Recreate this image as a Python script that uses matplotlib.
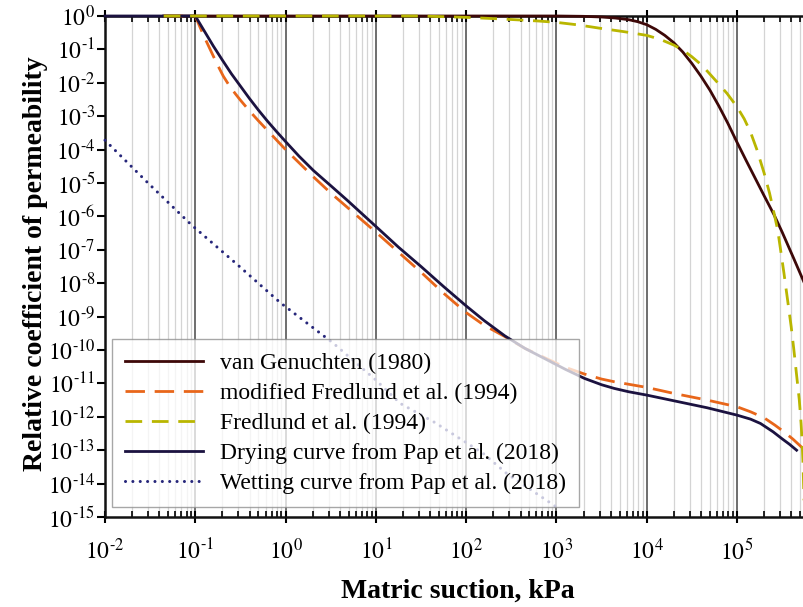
import numpy as np
import matplotlib
matplotlib.use("Agg")
import matplotlib.pyplot as plt
from matplotlib.ticker import LogLocator, FuncFormatter, NullLocator, FixedLocator

plt.rcParams['font.family'] = ['Liberation Serif', 'DejaVu Serif']
plt.rcParams['mathtext.fontset'] = 'stix'

# ---- data (log10 of suction in kPa, log10 of relative permeability) ----
vg_log_s = [-1.35, 3.0, 3.3, 3.5, 3.65, 3.8, 3.9, 4.0, 4.1, 4.2, 4.3, 4.4, 4.5, 4.6, 4.7, 4.8, 4.9,
            5.0, 5.1, 5.2, 5.3, 5.41, 5.5, 5.63, 5.742]
vg_log_k = [0.0, 0.0, -0.01, -0.03, -0.06, -0.11, -0.17, -0.26, -0.4, -0.58, -0.8, -1.08, -1.42, -1.8, -2.22,
            -2.7, -3.22, -3.78, -4.32, -4.85, -5.38, -5.95, -6.47, -7.27, -7.97]

mf_log_s = [-1.35, -1.0, -0.95, -0.9, -0.83, -0.76, -0.69, -0.62, -0.55, -0.5, -0.4, -0.3, -0.15, 0.0, 0.31,
            0.5, 0.68, 0.85, 1.0, 1.25, 1.52, 1.75, 2.0, 2.2, 2.43, 2.65, 2.9, 3.1, 3.31, 3.5, 3.64, 4.0,
            4.3, 4.67, 5.0, 5.15, 5.3, 5.42, 5.52, 5.62, 5.72, 5.742]
mf_log_k = [0.0, 0.0, -0.32, -0.63, -1.03, -1.43, -1.8, -2.1, -2.35, -2.52, -2.84, -3.14, -3.57, -4.0, -4.82,
            -5.3, -5.72, -6.12, -6.47, -7.07, -7.72, -8.3, -8.88, -9.26, -9.6, -9.95, -10.27, -10.52, -10.72,
            -10.87, -10.95, -11.12, -11.3, -11.5, -11.7, -11.85, -12.03, -12.25, -12.45, -12.67, -12.92, -13.0]

fr_log_s = [-1.35, 1.5, 2.0, 2.4, 2.8, 3.0, 3.25, 3.49, 3.75, 4.0, 4.15, 4.3, 4.4, 4.5, 4.6, 4.67, 4.78,
            4.89, 5.0, 5.08, 5.15, 5.22, 5.3, 5.36, 5.41, 5.45, 5.48, 5.52, 5.56, 5.6, 5.63, 5.66, 5.69,
            5.71, 5.72, 5.73, 5.742]
fr_log_k = [0.0, 0.0, -0.04, -0.09, -0.15, -0.19, -0.27, -0.37, -0.47, -0.58, -0.7, -0.87, -1.02, -1.22,
            -1.45, -1.65, -1.98, -2.32, -2.72, -3.08, -3.48, -4.0, -4.7, -5.3, -5.9, -6.4, -6.95, -7.7, -8.5,
            -9.3, -10.0, -10.75, -11.5, -12.2, -12.7, -13.3, -14.5]

dr_log_s = [-2.0, -1.5, -1.0, -0.9, -0.8, -0.7, -0.6, -0.5, -0.4, -0.3, -0.2, -0.1, 0.0, 0.15, 0.31, 0.5,
            0.68, 0.85, 1.0, 1.25, 1.5, 1.75, 2.0, 2.2, 2.43, 2.65, 2.9, 3.1, 3.31, 3.5, 3.64, 3.8, 4.0,
            4.3, 4.67, 5.0, 5.15, 5.26, 5.4, 5.5, 5.58, 5.66]
dr_log_k = [0.0, 0.0, 0.0, -0.45, -0.9, -1.32, -1.73, -2.1, -2.47, -2.82, -3.15, -3.46, -3.76, -4.2, -4.63,
            -5.08, -5.51, -5.93, -6.3, -6.92, -7.5, -8.1, -8.68, -9.12, -9.58, -9.95, -10.3, -10.58, -10.85,
            -11.04, -11.15, -11.25, -11.35, -11.52, -11.73, -11.95, -12.07, -12.2, -12.45, -12.66, -12.82, -13.0]

wt_log_s = [-2.0, -1.52, -1.04, -0.54, -0.06, 0.53, 1.0, 1.27, 1.64, 2.19, 2.45, 3.0]
wt_log_k = [-3.72, -5.01, -6.26, -7.43, -8.58, -9.8, -10.9, -11.6, -12.15, -13.1, -13.7, -14.7]

series_labels = ["van Genuchten (1980)", "modified Fredlund et al. (1994)", "Fredlund et al. (1994)",
                 "Drying curve from Pap et al. (2018)", "Wetting curve from Pap et al. (2018)"]
x_decades = list(range(-2, 6))
y_decades = list(range(-15, 1))

# ---- figure ----
fig = plt.figure(figsize=(8.04, 6.07), dpi=100)
ax = fig.add_axes([105/804, 90/607, 699/804, 501/607])
ax.set_xscale('log')
ax.set_yscale('log')
ax.set_xlim(10**-2, 10**5.742)
ax.set_ylim(1e-15, 1.0)

c_vg = '#3d0808'
c_mf = '#e8661a'
c_fr = '#b9b600'
c_dr = '#1b1240'
c_wt = '#26267a'

p = lambda a: np.power(10.0, np.asarray(a))
ax.plot(p(vg_log_s), p(vg_log_k), color=c_vg, lw=2.0, zorder=3, clip_on=False, label=series_labels[0])
ax.plot(p(mf_log_s), p(mf_log_k), color=c_mf, lw=2.0, dashes=(7, 3.5), zorder=4, clip_on=False, label=series_labels[1])
ax.plot(p(fr_log_s), p(fr_log_k), color=c_fr, lw=2.0, dashes=(6, 3.5), zorder=5, clip_on=False, label=series_labels[2])
ax.plot(p(dr_log_s), p(dr_log_k), color=c_dr, lw=2.0, zorder=4.5, clip_on=False, label=series_labels[3])
ax.plot(p(wt_log_s), p(wt_log_k), color=c_wt, lw=2.2, linestyle=(0, (0.01, 2.4)), dash_capstyle='round',
        zorder=4, clip_on=False, label=series_labels[4])

# ticks
ax.xaxis.set_major_locator(FixedLocator([10.0**d for d in x_decades]))
ax.xaxis.set_minor_locator(LogLocator(base=10, subs=np.arange(2, 10), numticks=30))
ax.yaxis.set_major_locator(FixedLocator([10.0**d for d in y_decades]))
ax.yaxis.set_minor_locator(NullLocator())


def fmt_func(v, pos):
    e = int(round(np.log10(v)))
    if e < 0:
        return r'$10^{\text{-}%d}$' % (-e)
    return r'$10^{%d}$' % e


fmt = FuncFormatter(fmt_func)
ax.xaxis.set_major_formatter(fmt)
ax.yaxis.set_major_formatter(fmt)
ax.tick_params(axis='x', which='major', direction='inout', length=9, width=1.5, labelsize=17, pad=11, top=True)
ax.tick_params(axis='x', which='minor', direction='in', length=4, width=1.2, top=True)
ax.tick_params(axis='y', which='major', direction='out', length=6, width=1.5, labelsize=17, pad=1)

ax.grid(which='major', axis='x', color='#555555', lw=1.2, zorder=0)
ax.grid(which='minor', axis='x', color='#d4d4d4', lw=0.9, zorder=0)
ax.set_axisbelow(True)

for s in ['left', 'bottom', 'top']:
    ax.spines[s].set_linewidth(1.8)
    ax.spines[s].set_color('#111111')
ax.spines['right'].set_visible(False)

ax.set_xlabel('Matric suction, kPa', fontsize=20, fontweight='bold')
ax.set_ylabel('Relative coefficient of permeability', fontsize=20, fontweight='bold')
ax.xaxis.set_label_coords(0.505, -0.124)
ax.yaxis.set_label_coords(-0.082, 0.505)

leg = ax.legend(loc='lower left', bbox_to_anchor=(0.010, 0.020), fontsize=17, frameon=True, fancybox=False,
                edgecolor='#8a8a8a', framealpha=0.75, handlelength=3.3, handletextpad=0.72,
                labelspacing=0.36, borderpad=0.55, borderaxespad=0)
leg.get_frame().set_linewidth(1.0)
leg.set_zorder(10)

fig.savefig('out.png', dpi=100)
